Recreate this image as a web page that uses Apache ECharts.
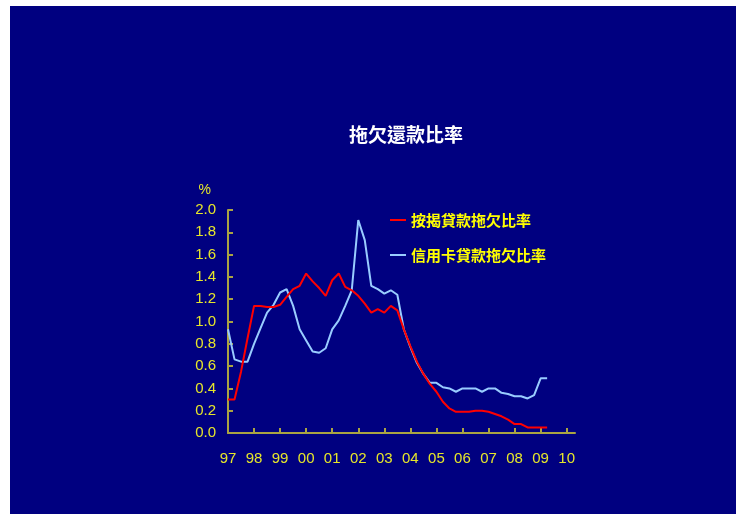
<!DOCTYPE html>
<html>
<head>
<meta charset="utf-8">
<script src="https://cdn.jsdelivr.net/npm/echarts@6/dist/echarts.min.js"></script>
<style>
  html, body { margin: 0; padding: 0; background: #ffffff; }
  #wrap { position: relative; width: 737px; height: 514px; overflow: hidden; }
  #bg { position: absolute; left: 10px; top: 6px; width: 726px; height: 508px; background: #000080; }
  #chart { position: absolute; left: 0; top: 0; width: 737px; height: 514px; }
</style>
</head>
<body>
<div id="wrap"><div id="bg"></div><div id="chart"></div></div>
<script>
// Quarterly data, first point at start of 1997
const startYear = 1997;
const yearLabels = ['97','98','99','00','01','02','03','04','05','06','07','08','09','10'];
const seriesNames = ['按揭貸款拖欠比率', '信用卡貸款拖欠比率'];
const mortgage = [
  0.30, 0.30, 0.55, 0.85, 1.14, 1.14, 1.13, 1.13, 1.15, 1.22,
  1.29, 1.32, 1.43, 1.36, 1.30, 1.23, 1.37, 1.43, 1.31, 1.28,
  1.23, 1.16, 1.08, 1.11, 1.08, 1.14, 1.10, 0.93, 0.78, 0.64,
  0.53, 0.44, 0.37, 0.28, 0.22, 0.19, 0.19, 0.19, 0.20, 0.20,
  0.19, 0.17, 0.15, 0.12, 0.08, 0.08, 0.05, 0.05, 0.05, 0.05
];
const creditCard = [
  0.93, 0.66, 0.64, 0.64, 0.80, 0.94, 1.08, 1.15, 1.26, 1.29,
  1.14, 0.93, 0.83, 0.73, 0.72, 0.76, 0.93, 1.01, 1.14, 1.28,
  1.91, 1.73, 1.32, 1.29, 1.25, 1.28, 1.24, 0.93, 0.77, 0.63,
  0.53, 0.45, 0.45, 0.41, 0.40, 0.37, 0.40, 0.40, 0.40, 0.37,
  0.40, 0.40, 0.36, 0.35, 0.33, 0.33, 0.31, 0.34, 0.49, 0.49
];
const yTicks = ['0.0','0.2','0.4','0.6','0.8','1.0','1.2','1.4','1.6','1.8','2.0'];

const toPoints = arr => arr.map((v, i) => [startYear + i / 4, v]);
const yearTicks = yearLabels.map((_, i) => startYear + i);

const axisColor = '#aaa442';
const labelColor = '#e6e62a';
const cjk = '"Noto Sans CJK TC", "Noto Sans CJK SC", sans-serif';

const chart = echarts.init(document.getElementById('chart'), null, { renderer: 'canvas' });
chart.setOption({
  backgroundColor: 'transparent',
  animation: false,
  title: {
    text: '拖欠還款比率',
    left: 406,
    top: 125,
    padding: 0,
    textAlign: 'center',
    textStyle: { color: '#ffffff', fontSize: 19, fontWeight: 'bold', fontFamily: cjk }
  },
  legend: {
    orient: 'vertical',
    left: 390,
    top: 211,
    padding: 0,
    itemWidth: 16,
    itemHeight: 2,
    itemGap: 17,
    icon: 'rect',
    data: seriesNames,
    textStyle: { color: '#ffff00', fontSize: 15, fontWeight: 'bold', fontFamily: cjk, lineHeight: 18 }
  },
  grid: { left: 228, top: 210, width: 347, height: 223, containLabel: false },
  xAxis: {
    type: 'value',
    min: startYear,
    max: startYear + 13.32,
    splitLine: { show: false },
    axisLine: { show: true, lineStyle: { color: axisColor, width: 2 } },
    axisTick: { show: true, inside: true, length: 5, lineStyle: { color: axisColor, width: 2 }, customValues: yearTicks },
    axisLabel: {
      customValues: yearTicks,
      margin: 18,
      color: labelColor,
      fontSize: 15,
      fontFamily: '"Liberation Sans Narrow", "Liberation Sans", Arial, sans-serif',
      formatter: v => yearLabels[Math.round(v - startYear)] || ''
    }
  },
  yAxis: {
    type: 'value',
    min: 0,
    max: 2,
    interval: 0.2,
    name: '%',
    nameGap: 13,
    nameTextStyle: { color: labelColor, fontSize: 14, fontFamily: '"Liberation Sans", Arial, sans-serif', align: 'right', padding: [0, 17, 0, 0] },
    splitLine: { show: false },
    axisLine: { show: true, lineStyle: { color: axisColor, width: 2 } },
    axisTick: { show: true, inside: true, length: 5, lineStyle: { color: axisColor, width: 2 } },
    axisLabel: {
      margin: 12,
      color: labelColor,
      fontSize: 15,
      fontFamily: '"Liberation Sans", Arial, sans-serif',
      formatter: v => yTicks[Math.round(v * 5)] || ''
    }
  },
  series: [
    {
      name: seriesNames[0],
      type: 'line',
      data: toPoints(mortgage),
      showSymbol: false,
      symbol: 'none',
      lineStyle: { color: '#ff0000', width: 2 },
      itemStyle: { color: '#ff0000' },
      z: 3
    },
    {
      name: seriesNames[1],
      type: 'line',
      data: toPoints(creditCard),
      showSymbol: false,
      symbol: 'none',
      lineStyle: { color: '#99ccff', width: 2 },
      itemStyle: { color: '#99ccff' },
      z: 2
    }
  ]
});
</script>
</body>
</html>
